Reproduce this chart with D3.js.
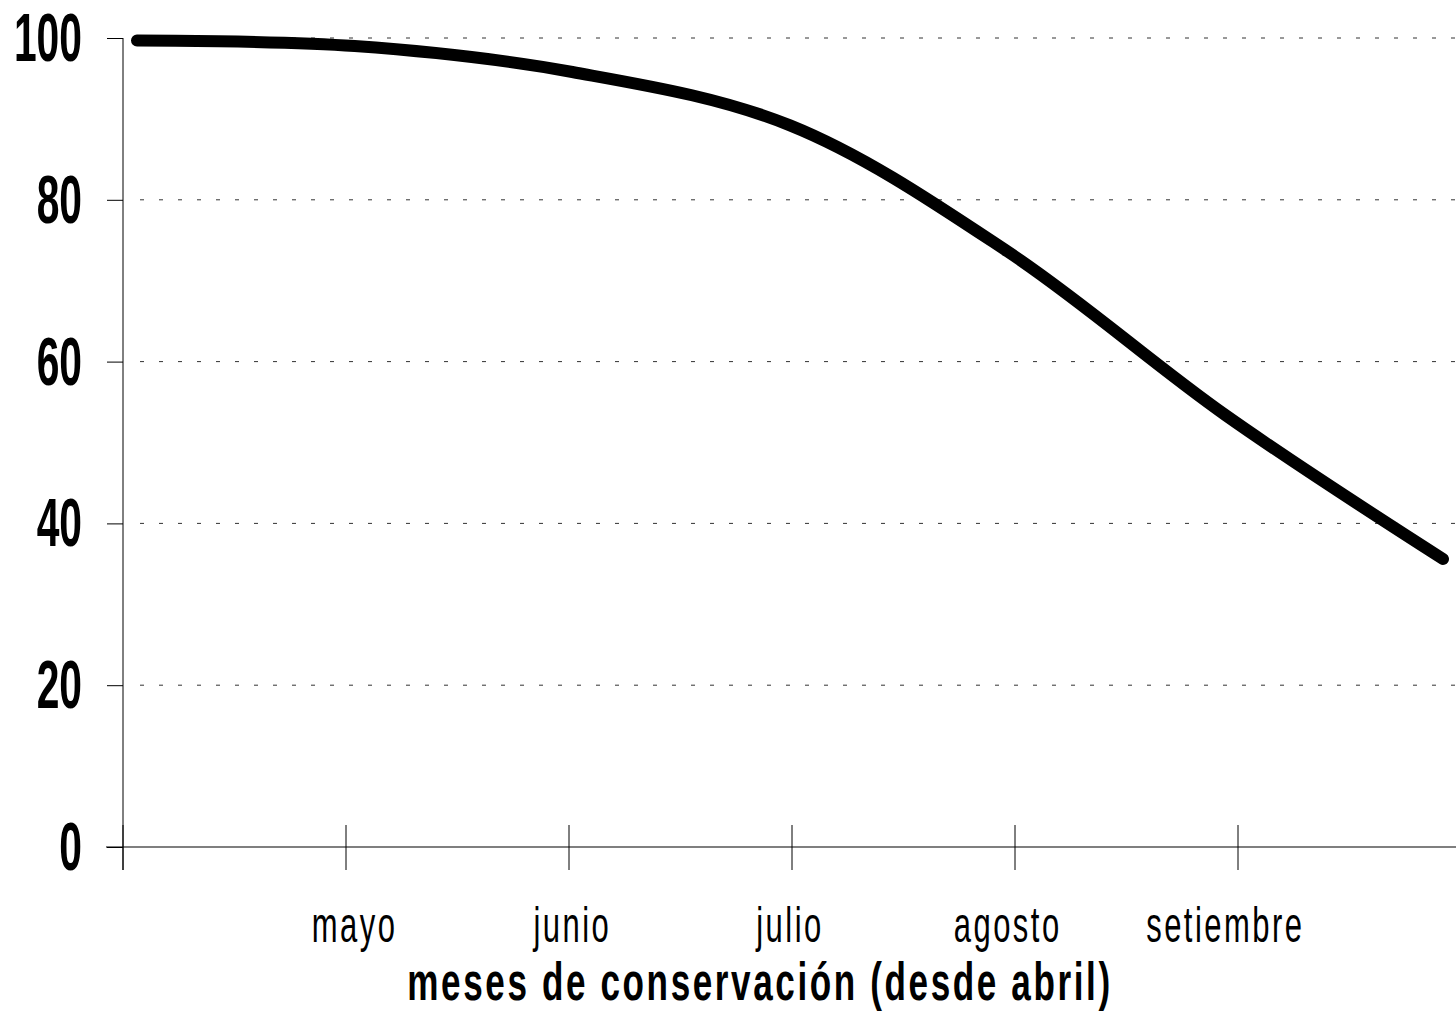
<!DOCTYPE html>
<html>
<head>
<meta charset="utf-8">
<script src="https://cdn.jsdelivr.net/npm/d3@7"></script>
<style>
  body { margin: 0; background: #fff; }
  svg { display: block; }
</style>
</head>
<body>
<svg id="chart"></svg>
<script>
// months since april (0 = abril ... 6 = octubre)
var months = [0, 1, 2, 3, 4, 5, 6];
var values = [99.7, 99.0, 95.8, 89.2, 73.6, 53.4, 35.6];
var monthLabels = ['mayo', 'junio', 'julio', 'agosto', 'setiembre'];
var labelMonths = [1, 2, 3, 4, 5];
var yTicks = [0, 20, 40, 60, 80, 100];
var xTitle = 'meses de conservación (desde abril)';

renderChart();

function renderChart(){
  var width = 1456, height = 1022;
  var svg = d3.select('#chart')
              .attr('width', width)
              .attr('height', height);

  var x = d3.scaleLinear().domain([0, 6]).range([137, 1443]);
  // the category axis ticks sit on a slightly different grid
  var xTick = d3.scaleLinear().domain([0, 6]).range([123, 1461]);
  var y = d3.scaleLinear().domain([0, 100]).range([847, 38]);

  // dashed gridlines
  svg.append('g')
     .selectAll('line')
     .data(yTicks.filter(d => d > 0))
     .enter()
     .append('line')
     .attr('x1', 140).attr('x2', width)
     .attr('y1', d => y(d)).attr('y2', d => y(d))
     .attr('stroke', '#333')
     .attr('stroke-width', 1)
     .attr('stroke-dasharray', '4,15');

  // y axis
  var yAxis = svg.append('g')
     .attr('transform', 'translate(123,0)')
     .call(d3.axisLeft(y).tickValues(yTicks).tickSize(16).tickFormat(''));
  yAxis.select('.domain').remove();
  yAxis.selectAll('line').attr('stroke', '#000');
  svg.append('line')
     .attr('x1', 123).attr('x2', 123)
     .attr('y1', y(100)).attr('y2', 870)
     .attr('stroke', '#000').attr('stroke-width', 1);

  // x axis
  svg.append('line')
     .attr('x1', 106).attr('x2', width)
     .attr('y1', y(0)).attr('y2', y(0))
     .attr('stroke', '#000').attr('stroke-width', 1.2);
  svg.append('g')
     .selectAll('line')
     .data(d3.range(0, 6))
     .enter()
     .append('line')
     .attr('x1', d => xTick(d)).attr('x2', d => xTick(d))
     .attr('y1', 825).attr('y2', 870)
     .attr('stroke', '#000').attr('stroke-width', 1);

  // y labels (narrow bold, squeezed with a scale)
  svg.append('g')
     .selectAll('text')
     .data(yTicks)
     .enter()
     .append('text')
     .attr('transform', d => 'translate(82,' + (y(d) + 23) + ') scale(0.6,1)')
     .attr('text-anchor', 'end')
     .style('font-family', 'Liberation Sans, Arial, sans-serif')
     .style('font-weight', 'bold')
     .style('font-size', '68px')
     .text(d => d);

  // month labels
  svg.append('g')
     .selectAll('text')
     .data(monthLabels)
     .enter()
     .append('text')
     .attr('transform', (d, i) => 'translate(' + x(labelMonths[i]) + ',942) scale(0.62,1)')
     .attr('text-anchor', 'middle')
     .style('font-family', 'Liberation Sans, Arial, sans-serif')
     .style('font-size', '50px')
     .style('letter-spacing', '4px')
     .text(d => d);

  // axis title
  svg.append('text')
     .attr('transform', 'translate(760,1000) scale(0.65,1)')
     .attr('text-anchor', 'middle')
     .style('font-family', 'Liberation Sans, Arial, sans-serif')
     .style('font-weight', 'bold')
     .style('font-size', '54px')
     .style('letter-spacing', '4px')
     .text(xTitle);

  // data line
  var line = d3.line()
               .x((d, i) => x(months[i]))
               .y(d => y(d))
               .curve(d3.curveCatmullRom.alpha(0.5));
  svg.append('path')
     .datum(values)
     .attr('d', line)
     .attr('fill', 'none')
     .attr('stroke', '#000')
     .attr('stroke-width', 12)
     .attr('stroke-linecap', 'round')
     .attr('stroke-linejoin', 'round');
}
</script>
</body>
</html>
